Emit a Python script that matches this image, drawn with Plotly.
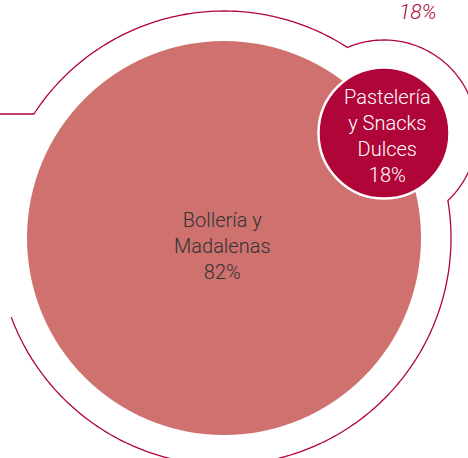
import numpy as np
import plotly.graph_objects as go

# ---- data ----
categories = ["Bollería y Madalenas", "Pastelería y Snacks Dulces"]
shares = [82, 18]
label_lines = [["Bollería y", "Madalenas"], ["Pastelería", "y Snacks", "Dulces"]]
callout_value = shares[1]

# ---- styles / geometry (pixel space) ----
W, H = 468, 458
BIG_C, BIG_R = (224.0, 238.0), 197.0
SMALL_C, SMALL_R = (384.0, 133.0), 65.5
RING_R, RING_SMALL_R = 227.0, 93.0
PINK = "#CE716F"
CRIMSON = "#B00538"
TEXT_DARK = "#333333"
FONT = "Roboto"
WEIGHT = 300

fig = go.Figure()

# circles
fig.add_shape(type="circle", xref="x", yref="y",
              x0=BIG_C[0] - BIG_R, x1=BIG_C[0] + BIG_R,
              y0=BIG_C[1] - BIG_R, y1=BIG_C[1] + BIG_R,
              fillcolor=PINK, line=dict(width=0), layer="below")
fig.add_shape(type="circle", xref="x", yref="y",
              x0=SMALL_C[0] - SMALL_R, x1=SMALL_C[0] + SMALL_R,
              y0=SMALL_C[1] - SMALL_R, y1=SMALL_C[1] + SMALL_R,
              fillcolor=CRIMSON, line=dict(width=2.5, color="white"), layer="below")

# outline ring path
C = np.array(BIG_C); S = np.array(SMALL_C)
d = np.linalg.norm(S - C)
a = (RING_R**2 - RING_SMALL_R**2 + d**2) / (2 * d)
h = np.sqrt(RING_R**2 - a**2)
P0 = C + a * (S - C) / d
perp = np.array([-(S - C)[1], (S - C)[0]]) / d
cands = [P0 + h * perp, P0 - h * perp]
P1, P2 = sorted(cands, key=lambda p: p[1])

def ang(p, c):
    return np.arctan2(p[1] - c[1], p[0] - c[0])

start_y = 114.0
th_start = -(np.pi - np.arcsin((C[1] - start_y) / RING_R))
th_end = np.deg2rad(159.6)

pts = [(0.0, start_y)]
t = np.linspace(th_start, ang(P1, C), 120)
pts += list(zip(C[0] + RING_R * np.cos(t), C[1] + RING_R * np.sin(t)))
a1, a2 = ang(P1, S), ang(P2, S)
if a2 < a1:
    a2 += 2 * np.pi
t = np.linspace(a1, a2, 120)
pts += list(zip(S[0] + RING_SMALL_R * np.cos(t), S[1] + RING_SMALL_R * np.sin(t)))
b1 = ang(P2, C)
t = np.linspace(b1, th_end, 200)
pts += list(zip(C[0] + RING_R * np.cos(t), C[1] + RING_R * np.sin(t)))
path = "M " + " L ".join(f"{x:.2f},{y:.2f}" for x, y in pts)
fig.add_shape(type="path", xref="x", yref="y", path=path,
              line=dict(color=CRIMSON, width=1.3))

# labels (one multi-line text per circle)
big_text = "<br>".join(label_lines[0] + [f"{shares[0]}%"])
fig.add_annotation(x=222, y=246, text=big_text, showarrow=False,
                   xanchor="center", yanchor="middle", align="center",
                   font=dict(family=FONT, size=20, color=TEXT_DARK, weight=WEIGHT))
small_text = "<br>".join(label_lines[1] + [f"{shares[1]}%"])
fig.add_annotation(x=387, y=136, text=small_text, showarrow=False,
                   xanchor="center", yanchor="middle", align="center",
                   font=dict(family=FONT, size=20, color="white", weight=WEIGHT))
fig.add_annotation(x=418, y=12, text=f"{callout_value}%", showarrow=False,
                   xanchor="center", yanchor="middle",
                   font=dict(family=FONT, size=21, color=CRIMSON, weight=WEIGHT, style="italic"))

fig.update_layout(width=W, height=H, margin=dict(l=0, r=0, t=0, b=0),
                  paper_bgcolor="white", plot_bgcolor="white", showlegend=False,
                  xaxis=dict(range=[0, W], visible=False, fixedrange=True),
                  yaxis=dict(range=[H, 0], visible=False, fixedrange=True))
fig.write_html("out.html", config={"displayModeBar": False},
               post_script="document.body.style.margin='0';document.body.style.overflow='hidden';")
